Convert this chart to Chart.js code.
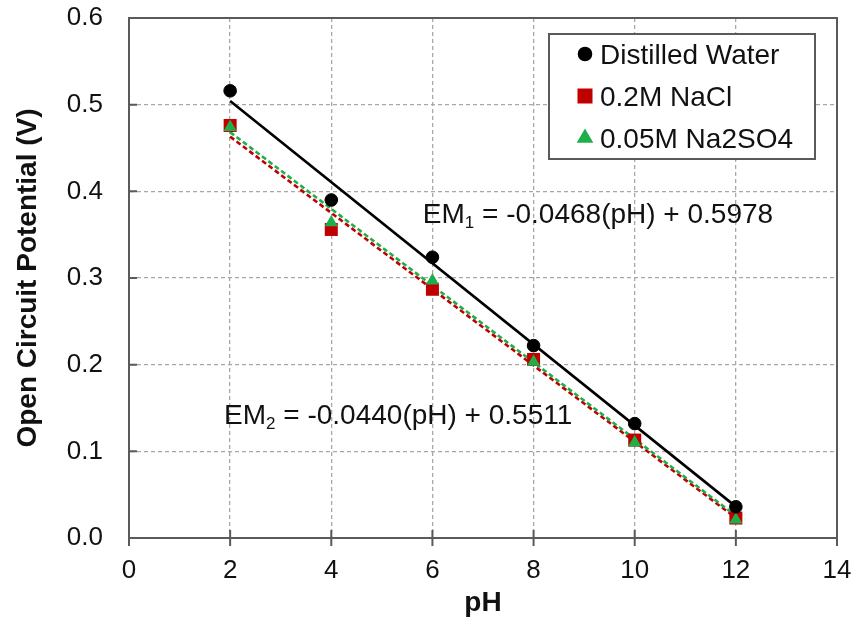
<!DOCTYPE html>
<html>
<head>
<meta charset="utf-8">
<script src="https://cdn.jsdelivr.net/npm/chart.js@4/dist/chart.umd.min.js"></script>
<style>
  html, body { margin: 0; padding: 0; background: #ffffff; }
  #wrap { width: 856px; height: 624px; }
</style>
</head>
<body>
<div id="wrap"><canvas id="c" width="856" height="624"></canvas></div>
<script>
// ---- data ----
const phValues   = [2, 4, 6, 8, 10, 12];
const waterOCP   = [0.516, 0.390, 0.324, 0.222, 0.132, 0.036];
const naclOCP    = [0.476, 0.356, 0.287, 0.206, 0.113, 0.023];
const na2so4OCP  = [0.474, 0.364, 0.297, 0.203, 0.110, 0.021];
const trendPH    = [2, 12];
const waterTrend = [0.5042, 0.0362];
const naclTrend  = [0.4631, 0.0231];
const na2so4Trend= [0.4683, 0.0257];
const seriesNames = ['Distilled Water', '0.2M NaCl', '0.05M Na2SO4'];
const eq1 = { main: 'EM', sub: '1', rest: ' = -0.0468(pH) + 0.5978', x: 5.81, y: 0.3635 };
const eq2 = { main: 'EM', sub: '2', rest: ' = -0.0440(pH) + 0.5511', x: 1.88, y: 0.1315 };
const xMin = 0, xMax = 14, xStep = 2;
const yMin = 0, yMax = 0.6, yStep = 0.1;

// ---- styles ----
const FONT = '"Liberation Sans", Arial, sans-serif';
const TEXT = '#111111';
const AXIS = '#5a5a5a';
const GRID = '#a8a8a8';
const BLACK = '#000000', RED = '#c00000', GREEN = '#20ae4a';

function pts(xs, ys) { return xs.map((v, i) => ({ x: v, y: ys[i] })); }

const markerStyles = [
  { style: 'circle', color: BLACK, r: 6.3 },
  { style: 'rect', color: RED, r: 9.2 },
  { style: 'triangle', color: GREEN, r: 7.6 }
];

const overlay = {
  id: 'overlay',
  beforeDatasetsDraw(chart) {
    const { ctx, chartArea: a, scales: { x, y } } = chart;
    ctx.save();
    ctx.strokeStyle = AXIS;
    ctx.lineWidth = 2;
    ctx.setLineDash([]);
    ctx.strokeRect(a.left, a.top, a.right - a.left, a.bottom - a.top);
    ctx.beginPath();
    x.ticks.forEach(t => {
      const px = x.getPixelForValue(t.value);
      ctx.moveTo(px, a.bottom - 8); ctx.lineTo(px, a.bottom + 8);
    });
    y.ticks.forEach(t => {
      const py = y.getPixelForValue(t.value);
      ctx.moveTo(a.left, py); ctx.lineTo(a.left + 8, py);
    });
    ctx.stroke();
    ctx.restore();
  },
  afterDatasetsDraw(chart) {
    const { ctx, chartArea: a, scales: { x, y } } = chart;
    ctx.save();
    // equations
    [eq1, eq2].forEach(eq => {
      let px = x.getPixelForValue(eq.x);
      const py = y.getPixelForValue(eq.y);
      ctx.fillStyle = TEXT;
      ctx.textBaseline = 'alphabetic';
      ctx.textAlign = 'left';
      ctx.font = '28px ' + FONT;
      ctx.fillText(eq.main, px, py);
      px += ctx.measureText(eq.main).width;
      ctx.font = '17px ' + FONT;
      ctx.fillText(eq.sub, px, py + 5);
      px += ctx.measureText(eq.sub).width;
      ctx.font = '28px ' + FONT;
      ctx.fillText(eq.rest, px, py);
    });
    // legend
    const bx = a.right - 288, by = a.top + 16, bw = 266, bh = 125;
    ctx.fillStyle = '#ffffff';
    ctx.fillRect(bx, by, bw, bh);
    ctx.strokeStyle = AXIS;
    ctx.lineWidth = 2;
    ctx.strokeRect(bx, by, bw, bh);
    ctx.font = '28px ' + FONT;
    ctx.textBaseline = 'middle';
    seriesNames.forEach((name, i) => {
      const cy = by + 20 + i * 42;
      const m = markerStyles[i];
      ctx.fillStyle = m.color;
      ctx.strokeStyle = m.color;
      Chart.helpers.drawPoint(ctx, { pointStyle: m.style, radius: m.r, borderWidth: 1, rotation: 0 }, bx + 36, cy);
      ctx.fill();
      ctx.fillStyle = TEXT;
      ctx.fillText(name, bx + 51, cy + 2);
    });
    ctx.restore();
  }
};

new Chart(document.getElementById('c'), {
  type: 'scatter',
  data: {
    datasets: [
      { label: seriesNames[0], data: pts(phValues, waterOCP), pointStyle: 'circle', pointRadius: 6.3,
        backgroundColor: BLACK, borderColor: BLACK, borderWidth: 1, order: 1 },
      { label: seriesNames[1], data: pts(phValues, naclOCP), pointStyle: 'rect', pointRadius: 9.2,
        backgroundColor: RED, borderColor: RED, borderWidth: 0, order: 3 },
      { label: seriesNames[2], data: pts(phValues, na2so4OCP), pointStyle: 'triangle', pointRadius: 7.6,
        backgroundColor: GREEN, borderColor: GREEN, borderWidth: 0, order: 2 },
      { type: 'line', data: pts(trendPH, waterTrend), borderColor: BLACK, borderWidth: 2.6,
        pointRadius: 0, showLine: true, fill: false, order: 4 },
      { type: 'line', data: pts(trendPH, na2so4Trend), borderColor: GREEN, borderWidth: 2.6, borderDash: [5, 3],
        pointRadius: 0, showLine: true, fill: false, order: 5 },
      { type: 'line', data: pts(trendPH, naclTrend), borderColor: RED, borderWidth: 2.6, borderDash: [5, 3],
        pointRadius: 0, showLine: true, fill: false, order: 6 }
    ]
  },
  options: {
    responsive: false,
    devicePixelRatio: 1,
    animation: false,
    layout: { padding: { left: 0, right: 19, top: 18, bottom: 0 } },
    plugins: { legend: { display: false }, tooltip: { enabled: false } },
    scales: {
      x: {
        type: 'linear', min: xMin, max: xMax,
        ticks: { stepSize: xStep, color: TEXT, font: { family: FONT, size: 26 }, padding: 17 },
        grid: { color: GRID, lineWidth: 1.3, drawTicks: false },
        border: { display: true, color: AXIS, width: 2, dash: [4, 3] },
        title: { display: true, text: 'pH', color: TEXT, font: { family: FONT, size: 28, weight: 'bold' },
                 padding: { top: 0, bottom: 4 } },
        afterFit(s) { s.height = 86; s.paddingLeft = 0; s.paddingRight = 0; }
      },
      y: {
        type: 'linear', min: yMin, max: yMax,
        ticks: { stepSize: yStep, color: TEXT, font: { family: FONT, size: 26 }, padding: 26,
                 callback: v => Number(v).toFixed(1) },
        grid: { color: GRID, lineWidth: 1.3, drawTicks: false },
        border: { display: true, color: AXIS, width: 2, dash: [4, 3] },
        title: { display: true, text: 'Open Circuit Potential (V)', color: TEXT,
                 font: { family: FONT, size: 28, weight: 'bold' }, padding: { top: 11, bottom: 0 } },
        afterFit(s) { s.width = 129; s.paddingTop = 0; s.paddingBottom = 0; }
      }
    }
  },
  plugins: [overlay]
});
</script>
</body>
</html>
